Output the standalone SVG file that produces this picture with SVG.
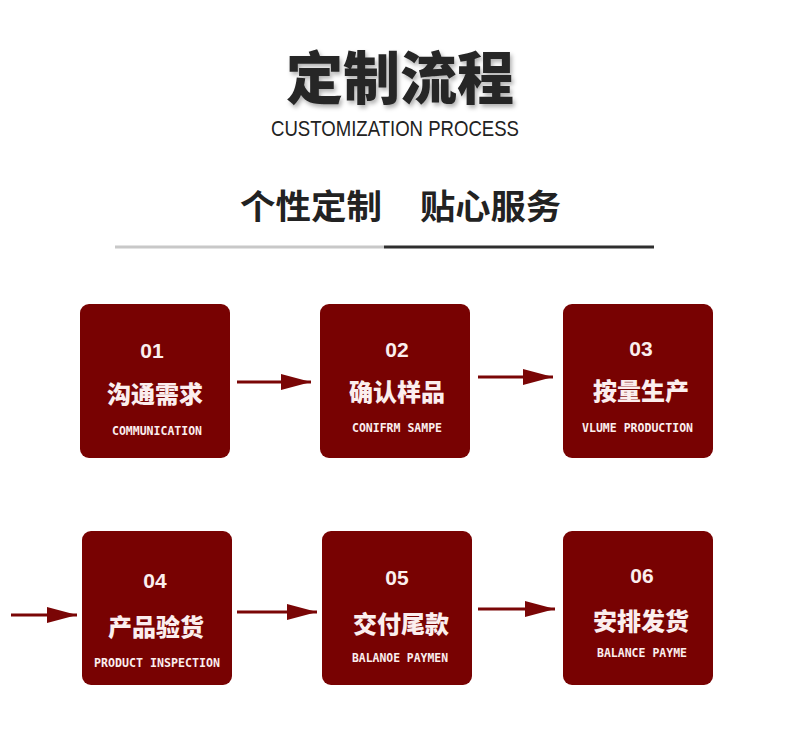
<svg xmlns="http://www.w3.org/2000/svg" width="790" height="752" viewBox="0 0 790 752">
<style>
.box{fill:#780202;}
.num{font-family:"Liberation Sans","DejaVu Sans",sans-serif;font-weight:bold;font-size:21px;fill:#fbeeee;text-anchor:middle;}
.cn{font-family:"Noto Sans CJK SC",sans-serif;font-weight:900;font-size:24px;fill:#fbeeee;text-anchor:middle;}
.en{font-family:"DejaVu Sans Mono","Liberation Mono",monospace;font-weight:bold;font-size:12px;fill:#fbeeee;}
.arr{stroke:#7a0606;stroke-width:3;fill:none;}
</style>
<defs>
<marker id="ah" markerUnits="userSpaceOnUse" markerWidth="30" markerHeight="16" viewBox="0 0 30 16" refX="30" refY="8" orient="auto">
<path d="M0,0 L30,8 L0,16 z" fill="#7a0606"/>
</marker>
<filter id="sh" x="-10%" y="-20%" width="130%" height="150%">
<feDropShadow dx="2" dy="3" stdDeviation="2" flood-color="#000" flood-opacity="0.3"/>
</filter>
</defs>
<rect width="790" height="752" fill="#ffffff"/>
<g id="header">
<text x="400" y="99" text-anchor="middle" font-family="Noto Sans CJK SC, sans-serif" font-weight="900" font-size="57" fill="#262626" filter="url(#sh)">定制流程</text>
<text x="271" y="136" font-family="Liberation Sans, sans-serif" font-size="22" fill="#222" textLength="248" lengthAdjust="spacingAndGlyphs">CUSTOMIZATION PROCESS</text>
<text x="240" y="219" font-family="Noto Sans CJK SC, sans-serif" font-weight="bold" font-size="34" fill="#222" textLength="142" lengthAdjust="spacingAndGlyphs">个性定制</text>
<text x="420" y="219" font-family="Noto Sans CJK SC, sans-serif" font-weight="bold" font-size="34" fill="#222" textLength="141" lengthAdjust="spacingAndGlyphs">贴心服务</text>
<line x1="115" y1="247" x2="384" y2="247" stroke="#c8c8c8" stroke-width="3"/>
<line x1="384" y1="247" x2="654" y2="247" stroke="#2e2e2e" stroke-width="3"/>
</g>
<g id="connectors">
<line class="arr" x1="237" y1="382" x2="311" y2="382" marker-end="url(#ah)"/>
<line class="arr" x1="478" y1="377" x2="553" y2="377" marker-end="url(#ah)"/>
<line class="arr" x1="11" y1="615" x2="77" y2="615" marker-end="url(#ah)"/>
<line class="arr" x1="237" y1="612" x2="317" y2="612" marker-end="url(#ah)"/>
<line class="arr" x1="478" y1="609" x2="555" y2="609" marker-end="url(#ah)"/>
</g>
<g id="step01">
<rect class="box" x="80" y="304" width="150" height="154" rx="9"/>
<text class="num" x="152" y="358">01</text>
<text class="cn" x="155" y="403">沟通需求</text>
<text class="en" x="112" y="435" textLength="90" lengthAdjust="spacingAndGlyphs">COMMUNICATION</text>
</g>
<g id="step02">
<rect class="box" x="320" y="304" width="150" height="154" rx="9"/>
<text class="num" x="397" y="357">02</text>
<text class="cn" x="397" y="401">确认样品</text>
<text class="en" x="352" y="432" textLength="90" lengthAdjust="spacingAndGlyphs">CONIFRM SAMPE</text>
</g>
<g id="step03">
<rect class="box" x="563" y="304" width="150" height="154" rx="9"/>
<text class="num" x="641" y="356">03</text>
<text class="cn" x="641" y="400">按量生产</text>
<text class="en" x="582" y="432" textLength="111" lengthAdjust="spacingAndGlyphs">VLUME PRODUCTION</text>
</g>
<g id="step04">
<rect class="box" x="82" y="531" width="150" height="154" rx="9"/>
<text class="num" x="155" y="588">04</text>
<text class="cn" x="156" y="636">产品验货</text>
<text class="en" x="94" y="667" textLength="126" lengthAdjust="spacingAndGlyphs">PRODUCT INSPECTION</text>
</g>
<g id="step05">
<rect class="box" x="322" y="531" width="150" height="154" rx="9"/>
<text class="num" x="397" y="585">05</text>
<text class="cn" x="401" y="633">交付尾款</text>
<text class="en" x="352" y="662" textLength="96" lengthAdjust="spacingAndGlyphs">BALANOE PAYMEN</text>
</g>
<g id="step06">
<rect class="box" x="563" y="531" width="150" height="154" rx="9"/>
<text class="num" x="642" y="583">06</text>
<text class="cn" x="641" y="630">安排发货</text>
<text class="en" x="597" y="657" textLength="90" lengthAdjust="spacingAndGlyphs">BALANCE PAYME</text>
</g>
</svg>
